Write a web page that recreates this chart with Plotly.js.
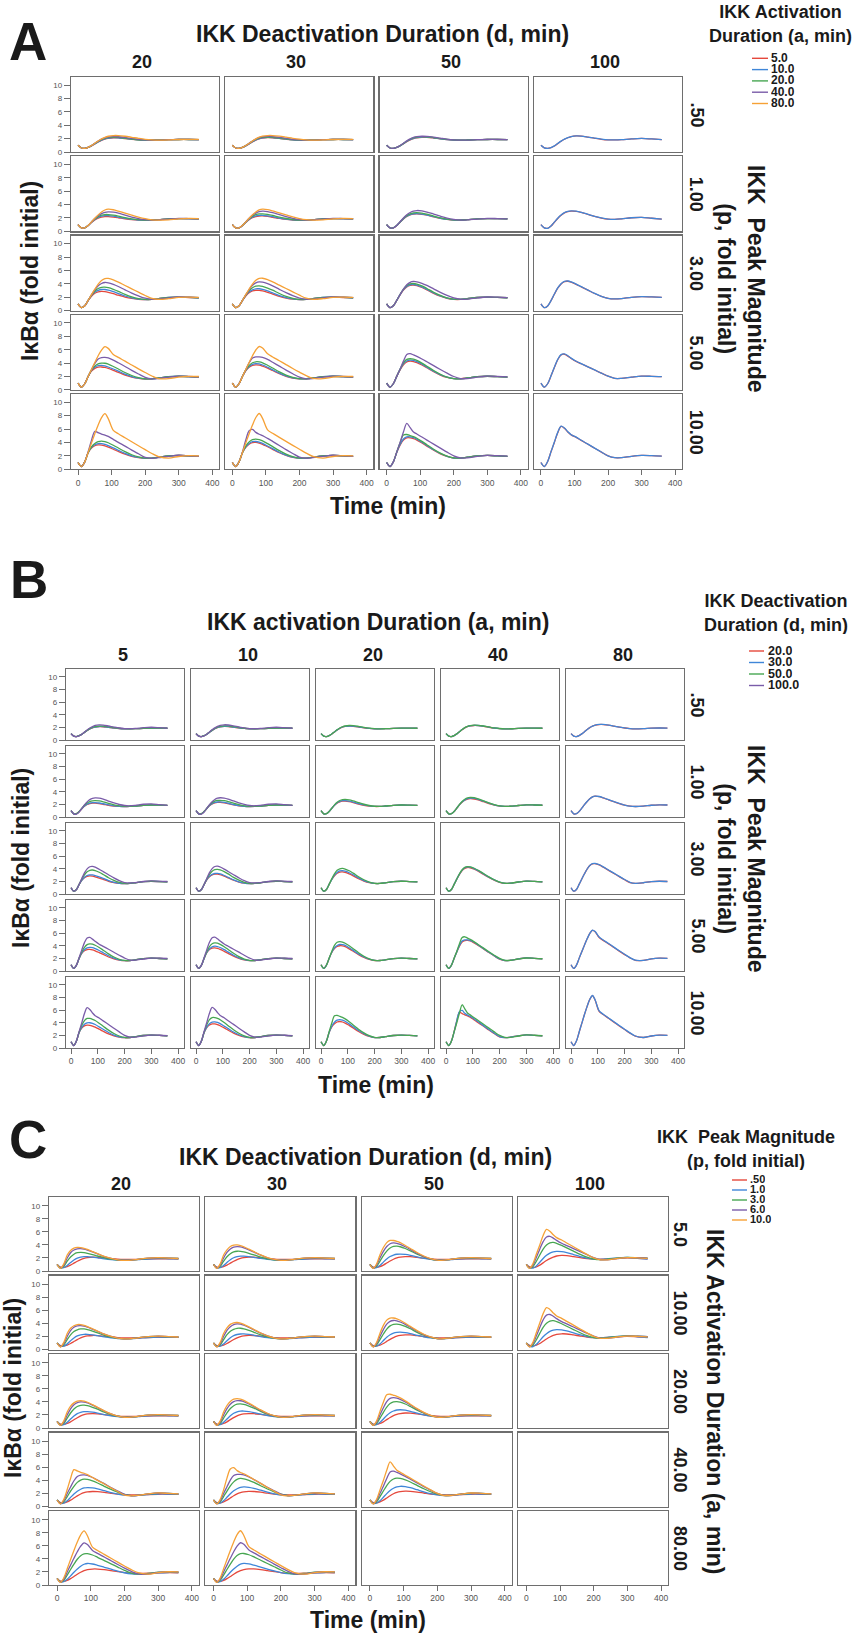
<!DOCTYPE html>
<html><head><meta charset="utf-8">
<script src="https://cdn.plot.ly/plotly-3.0.1.min.js"></script>
<style>html,body{margin:0;padding:0;background:#fff;}#chart{width:856px;height:1633px;}</style>
</head><body><div id="chart"></div>
<script>
// ---------------- DATA ----------------
const TIME = [0,10,20,30,40,50,60,70,80,90,105,120,140,160,180,200,220,240,270,300,330,360];
const A_LEVELS = [5,10,20,40,80];      // IKK activation duration (min)
const D_LEVELS = [20,30,50,100];       // IKK deactivation duration (min)
const P_LEVELS = [0.5,1,3,5,10];       // IKK peak magnitude (fold)
const A_LABELS = ['5.0','10.0','20.0','40.0','80.0'];
const D_LABELS = ['20.0','30.0','50.0','100.0'];
const P_LABELS = ['.50','1.0','3.0','6.0','10.0'];
const P_ROW_LABELS = ['.50','1.00','3.00','5.00','10.00'];
const A_ROW_LABELS = ['5.0','10.00','20.00','40.00','80.00'];
const D_COL_LABELS = ['20','30','50','100'];
const A_COL_LABELS = ['5','10','20','40','80'];
const X_TICKS = [0,100,200,300,400];
const Y_TICKS = [0,2,4,6,8,10];

// IkBa (fold initial) for each (a,d); rows are p = .5, 1, 3, 5, 10
const a5_d20 = [
 [1.0,0.6,0.55,0.68,0.9,1.2,1.5,1.75,1.93,2.04,2.12,2.1,2.0,1.9,1.82,1.78,1.77,1.79,1.84,1.87,1.87,1.86],
 [1.0,0.5,0.52,0.85,1.3,1.7,1.98,2.13,2.2,2.2,2.13,2.02,1.86,1.74,1.67,1.65,1.68,1.74,1.84,1.9,1.88,1.85],
 [1.0,0.45,0.72,1.5,2.15,2.58,2.8,2.86,2.82,2.72,2.52,2.3,2.02,1.82,1.69,1.64,1.68,1.78,1.95,2.0,1.96,1.92],
 [1.0,0.42,0.92,2.0,2.8,3.22,3.4,3.42,3.35,3.2,2.92,2.62,2.22,1.92,1.72,1.63,1.66,1.78,1.96,2.03,1.98,1.92],
 [1.0,0.4,1.1,2.45,3.15,3.5,3.62,3.6,3.48,3.3,2.98,2.65,2.24,1.93,1.72,1.63,1.66,1.79,1.98,2.05,1.99,1.92]];
const a10_d20 = [
 [1.0,0.6,0.55,0.68,0.92,1.22,1.52,1.78,1.97,2.08,2.15,2.13,2.03,1.92,1.83,1.78,1.77,1.79,1.84,1.87,1.87,1.86],
 [1.0,0.5,0.52,0.86,1.34,1.77,2.08,2.25,2.33,2.33,2.25,2.12,1.93,1.78,1.69,1.66,1.68,1.74,1.84,1.9,1.88,1.85],
 [1.0,0.45,0.72,1.5,2.25,2.75,3.02,3.15,3.15,3.05,2.82,2.55,2.18,1.9,1.72,1.65,1.67,1.78,1.96,2.02,1.97,1.92],
 [1.0,0.42,0.92,2.0,2.9,3.4,3.62,3.66,3.58,3.42,3.12,2.8,2.35,2.0,1.76,1.64,1.66,1.78,1.97,2.04,1.98,1.92],
 [1.0,0.4,1.1,2.45,3.25,3.65,3.82,3.82,3.7,3.52,3.18,2.82,2.36,2.0,1.75,1.63,1.66,1.79,1.98,2.05,1.99,1.92]];
const a20_d20 = [
 [1.0,0.6,0.55,0.7,0.95,1.27,1.58,1.85,2.04,2.15,2.2,2.17,2.06,1.93,1.83,1.78,1.77,1.79,1.84,1.87,1.87,1.86],
 [1.0,0.5,0.52,0.87,1.37,1.84,2.2,2.4,2.5,2.5,2.42,2.28,2.05,1.86,1.73,1.67,1.68,1.74,1.85,1.9,1.88,1.85],
 [1.0,0.45,0.72,1.52,2.3,2.9,3.3,3.48,3.5,3.42,3.18,2.88,2.42,2.05,1.8,1.67,1.67,1.77,1.96,2.02,1.97,1.92],
 [1.0,0.42,0.92,2.0,2.95,3.55,3.88,4.0,3.98,3.85,3.5,3.12,2.6,2.15,1.83,1.66,1.66,1.78,1.97,2.04,1.98,1.92],
 [1.0,0.4,1.1,2.45,3.35,3.85,4.12,4.2,4.12,3.95,3.58,3.17,2.62,2.16,1.83,1.65,1.66,1.79,1.98,2.05,1.99,1.92]];
const a40_d20 = [
 [1.0,0.6,0.55,0.7,0.97,1.3,1.63,1.92,2.12,2.24,2.3,2.28,2.17,2.02,1.89,1.8,1.77,1.78,1.84,1.88,1.88,1.86],
 [1.0,0.5,0.52,0.87,1.4,1.92,2.35,2.65,2.84,2.9,2.85,2.7,2.42,2.13,1.9,1.74,1.68,1.7,1.82,1.92,1.9,1.86],
 [1.0,0.45,0.72,1.52,2.35,3.1,3.7,4.05,4.2,4.15,3.92,3.6,3.1,2.62,2.2,1.85,1.68,1.72,1.9,2.03,2.0,1.93],
 [1.0,0.42,0.92,2.0,3.0,3.95,4.6,4.82,4.85,4.78,4.45,4.05,3.5,2.92,2.38,1.88,1.65,1.7,1.92,2.07,2.0,1.93],
 [1.0,0.4,1.1,2.6,4.3,5.65,5.45,5.25,5.1,4.9,4.45,4.0,3.45,2.85,2.3,1.75,1.63,1.72,1.93,2.08,2.0,1.93]];
const a80_d20 = [
 [1.0,0.6,0.55,0.7,0.97,1.3,1.65,1.96,2.2,2.35,2.45,2.45,2.35,2.2,2.04,1.9,1.81,1.77,1.8,1.87,1.9,1.88],
 [1.0,0.5,0.52,0.87,1.4,1.95,2.45,2.88,3.18,3.3,3.22,3.02,2.72,2.42,2.12,1.88,1.72,1.66,1.72,1.86,1.92,1.9],
 [1.0,0.45,0.72,1.52,2.38,3.2,3.95,4.5,4.78,4.8,4.6,4.25,3.75,3.25,2.75,2.25,1.82,1.68,1.78,1.97,2.02,1.98],
 [1.0,0.42,0.92,2.0,3.05,4.1,5.1,5.95,6.45,6.2,5.3,4.85,4.3,3.72,3.15,2.6,2.08,1.7,1.68,1.92,2.03,2.0],
 [1.0,0.4,1.1,2.5,3.9,5.3,6.6,7.7,8.3,7.55,5.8,5.3,4.7,4.1,3.5,2.92,2.35,1.88,1.66,1.9,2.03,2.0]];
const a5_d30 = [
 [1.0,0.6,0.55,0.68,0.9,1.2,1.5,1.76,1.95,2.06,2.14,2.12,2.02,1.91,1.82,1.78,1.77,1.79,1.84,1.87,1.87,1.86],
 [1.0,0.5,0.52,0.85,1.31,1.73,2.03,2.2,2.28,2.29,2.22,2.1,1.92,1.77,1.68,1.65,1.68,1.74,1.84,1.9,1.88,1.85],
 [1.0,0.45,0.72,1.5,2.18,2.66,2.93,3.03,3.02,2.93,2.72,2.47,2.12,1.86,1.7,1.64,1.68,1.78,1.95,2.01,1.96,1.92],
 [1.0,0.42,0.92,2.0,2.85,3.38,3.66,3.74,3.7,3.55,3.25,2.9,2.42,2.03,1.77,1.64,1.66,1.78,1.96,2.03,1.98,1.92],
 [1.0,0.4,1.1,2.45,3.25,3.75,3.97,4.0,3.9,3.72,3.35,2.97,2.46,2.05,1.77,1.64,1.66,1.79,1.98,2.05,1.99,1.92]];
const a10_d30 = [
 [1.0,0.6,0.55,0.68,0.92,1.22,1.53,1.79,1.99,2.1,2.17,2.15,2.05,1.93,1.83,1.78,1.77,1.79,1.84,1.87,1.87,1.86],
 [1.0,0.5,0.52,0.86,1.35,1.8,2.12,2.3,2.38,2.39,2.31,2.18,1.98,1.81,1.7,1.66,1.68,1.74,1.84,1.9,1.88,1.85],
 [1.0,0.45,0.72,1.5,2.27,2.8,3.1,3.25,3.26,3.17,2.93,2.64,2.24,1.94,1.74,1.65,1.67,1.78,1.96,2.02,1.97,1.92],
 [1.0,0.42,0.92,2.0,2.93,3.5,3.82,3.93,3.88,3.72,3.38,3.0,2.5,2.08,1.79,1.65,1.66,1.78,1.97,2.04,1.98,1.92],
 [1.0,0.4,1.1,2.45,3.32,3.85,4.1,4.14,4.05,3.86,3.47,3.07,2.53,2.1,1.8,1.64,1.66,1.79,1.98,2.05,1.99,1.92]];
const a20_d30 = [
 [1.0,0.6,0.55,0.7,0.95,1.28,1.6,1.87,2.06,2.17,2.22,2.19,2.08,1.95,1.84,1.78,1.77,1.79,1.84,1.87,1.87,1.86],
 [1.0,0.5,0.52,0.87,1.38,1.87,2.26,2.48,2.59,2.6,2.52,2.37,2.12,1.91,1.76,1.68,1.68,1.74,1.85,1.9,1.88,1.85],
 [1.0,0.45,0.72,1.52,2.32,2.98,3.42,3.65,3.7,3.62,3.37,3.05,2.55,2.13,1.84,1.68,1.67,1.77,1.96,2.02,1.97,1.92],
 [1.0,0.42,0.92,2.0,2.98,3.65,4.05,4.2,4.18,4.05,3.68,3.27,2.7,2.22,1.87,1.67,1.66,1.78,1.97,2.04,1.98,1.92],
 [1.0,0.4,1.1,2.45,3.45,4.08,4.42,4.5,4.42,4.23,3.82,3.37,2.77,2.26,1.88,1.66,1.66,1.79,1.98,2.05,1.99,1.92]];
const a40_d30 = [
 [1.0,0.6,0.55,0.7,0.97,1.31,1.65,1.94,2.14,2.26,2.32,2.3,2.19,2.04,1.9,1.81,1.77,1.78,1.84,1.88,1.88,1.86],
 [1.0,0.5,0.52,0.87,1.41,1.95,2.4,2.72,2.93,3.0,2.95,2.79,2.5,2.2,1.94,1.76,1.68,1.7,1.82,1.92,1.9,1.86],
 [1.0,0.45,0.72,1.52,2.36,3.15,3.78,4.15,4.3,4.25,4.02,3.7,3.18,2.68,2.24,1.88,1.69,1.72,1.9,2.03,2.0,1.93],
 [1.0,0.42,0.92,2.0,3.02,4.05,4.75,4.93,4.92,4.85,4.55,4.13,3.55,2.96,2.41,1.9,1.66,1.7,1.92,2.07,2.0,1.93],
 [1.0,0.4,1.1,2.55,4.35,5.75,5.95,5.5,5.22,5.02,4.6,4.15,3.55,2.92,2.35,1.8,1.64,1.72,1.93,2.08,2.0,1.93]];
const a80_d30 = [
 [1.0,0.6,0.55,0.7,0.97,1.3,1.65,1.97,2.21,2.36,2.46,2.46,2.36,2.21,2.05,1.91,1.81,1.77,1.8,1.87,1.9,1.88],
 [1.0,0.5,0.52,0.87,1.4,1.95,2.46,2.89,3.2,3.32,3.25,3.05,2.75,2.45,2.15,1.9,1.73,1.66,1.72,1.86,1.92,1.9],
 [1.0,0.45,0.72,1.52,2.38,3.2,3.96,4.52,4.8,4.83,4.64,4.3,3.8,3.3,2.8,2.3,1.85,1.69,1.78,1.97,2.02,1.98],
 [1.0,0.42,0.92,2.0,3.05,4.1,5.1,5.96,6.48,6.25,5.38,4.92,4.36,3.78,3.2,2.65,2.12,1.72,1.68,1.92,2.03,2.0],
 [1.0,0.4,1.1,2.5,3.9,5.3,6.6,7.72,8.32,7.6,5.88,5.36,4.76,4.16,3.56,2.98,2.4,1.9,1.66,1.9,2.03,2.0]];
const a5_d50 = [
 [1.0,0.6,0.55,0.68,0.91,1.22,1.53,1.8,2.0,2.12,2.2,2.19,2.09,1.96,1.85,1.79,1.77,1.79,1.84,1.87,1.87,1.86],
 [1.0,0.5,0.52,0.86,1.36,1.85,2.22,2.45,2.57,2.6,2.54,2.4,2.15,1.93,1.77,1.68,1.68,1.74,1.85,1.9,1.88,1.85],
 [1.0,0.45,0.72,1.52,2.35,3.05,3.52,3.76,3.8,3.72,3.45,3.1,2.58,2.15,1.84,1.68,1.67,1.77,1.96,2.02,1.97,1.92],
 [1.0,0.42,0.92,2.02,3.0,3.75,4.18,4.3,4.24,4.08,3.72,3.3,2.72,2.22,1.86,1.67,1.66,1.78,1.97,2.04,1.98,1.92],
 [1.0,0.4,1.1,2.5,3.6,4.35,4.68,4.68,4.55,4.35,3.92,3.45,2.83,2.3,1.9,1.67,1.66,1.79,1.98,2.05,1.99,1.92]];
const a10_d50 = [
 [1.0,0.6,0.55,0.68,0.92,1.24,1.56,1.83,2.04,2.16,2.24,2.23,2.12,1.98,1.86,1.79,1.77,1.79,1.84,1.87,1.87,1.86],
 [1.0,0.5,0.52,0.86,1.37,1.88,2.26,2.5,2.62,2.65,2.58,2.43,2.18,1.95,1.78,1.69,1.68,1.74,1.85,1.9,1.88,1.85],
 [1.0,0.45,0.72,1.52,2.38,3.12,3.62,3.86,3.9,3.82,3.54,3.18,2.64,2.19,1.86,1.69,1.67,1.77,1.96,2.02,1.97,1.92],
 [1.0,0.42,0.92,2.02,3.05,3.88,4.32,4.45,4.4,4.22,3.85,3.4,2.8,2.27,1.89,1.68,1.66,1.78,1.97,2.04,1.98,1.92],
 [1.0,0.4,1.1,2.5,3.7,4.5,4.83,4.83,4.7,4.48,4.03,3.54,2.9,2.34,1.92,1.67,1.66,1.79,1.98,2.05,1.99,1.92]];
const a20_d50 = [
 [1.0,0.6,0.55,0.7,0.95,1.28,1.61,1.9,2.1,2.22,2.3,2.28,2.16,2.01,1.88,1.8,1.77,1.79,1.84,1.87,1.87,1.86],
 [1.0,0.5,0.52,0.87,1.39,1.92,2.34,2.61,2.76,2.8,2.73,2.56,2.28,2.02,1.82,1.7,1.68,1.74,1.85,1.9,1.88,1.85],
 [1.0,0.45,0.72,1.52,2.4,3.2,3.75,4.0,4.05,3.96,3.68,3.3,2.74,2.26,1.9,1.7,1.67,1.77,1.96,2.02,1.97,1.92],
 [1.0,0.42,0.92,2.02,3.1,4.05,4.55,4.65,4.58,4.4,4.0,3.53,2.9,2.34,1.92,1.69,1.66,1.78,1.97,2.04,1.98,1.92],
 [1.0,0.4,1.1,2.55,3.95,5.1,5.18,5.02,4.85,4.62,4.16,3.65,2.98,2.4,1.95,1.68,1.66,1.79,1.98,2.05,1.99,1.92]];
const a40_d50 = [
 [1.0,0.6,0.55,0.7,0.97,1.31,1.66,1.96,2.17,2.29,2.35,2.33,2.22,2.07,1.92,1.82,1.77,1.78,1.84,1.88,1.88,1.86],
 [1.0,0.5,0.52,0.87,1.42,1.98,2.46,2.8,3.02,3.1,3.05,2.88,2.57,2.25,1.97,1.78,1.69,1.7,1.82,1.92,1.9,1.86],
 [1.0,0.45,0.72,1.52,2.38,3.2,3.85,4.22,4.35,4.3,4.08,3.76,3.24,2.72,2.26,1.9,1.7,1.72,1.9,2.03,2.0,1.93],
 [1.0,0.42,0.92,2.02,3.1,4.3,5.3,5.42,5.22,5.0,4.62,4.2,3.62,3.05,2.5,2.0,1.7,1.68,1.9,2.06,2.01,1.94],
 [1.0,0.4,1.1,2.55,4.0,5.55,6.85,6.2,5.55,5.25,4.8,4.35,3.75,3.15,2.55,2.0,1.68,1.68,1.9,2.07,2.02,1.94]];
const a5_d100 = [
 [1.0,0.62,0.55,0.65,0.9,1.25,1.6,1.9,2.13,2.3,2.4,2.37,2.22,2.05,1.9,1.81,1.8,1.84,1.95,2.02,1.95,1.86],
 [1.0,0.5,0.45,0.78,1.35,1.92,2.4,2.75,2.95,3.02,2.98,2.82,2.52,2.22,1.98,1.82,1.78,1.85,2.02,2.08,1.95,1.83],
 [1.0,0.45,0.7,1.5,2.45,3.35,3.98,4.32,4.38,4.25,3.92,3.55,3.05,2.55,2.12,1.82,1.74,1.8,1.98,2.08,2.04,1.98],
 [1.0,0.42,0.92,2.1,3.35,4.5,5.22,5.32,5.05,4.7,4.25,3.9,3.44,2.97,2.5,2.05,1.72,1.72,1.9,2.05,2.03,1.98],
 [1.0,0.4,1.15,2.6,4.0,5.45,6.38,6.1,5.55,5.12,4.75,4.3,3.72,3.12,2.55,2.0,1.72,1.72,1.92,2.05,2.02,1.95]];
const a10_d100 = [
 [1.0,0.62,0.55,0.66,0.92,1.27,1.62,1.92,2.15,2.31,2.41,2.38,2.23,2.06,1.91,1.81,1.8,1.84,1.95,2.02,1.95,1.86],
 [1.0,0.5,0.45,0.79,1.37,1.95,2.43,2.78,2.98,3.05,3.0,2.84,2.54,2.23,1.99,1.82,1.78,1.85,2.02,2.08,1.95,1.83],
 [1.0,0.45,0.7,1.5,2.47,3.38,4.02,4.36,4.42,4.28,3.95,3.57,3.06,2.56,2.12,1.82,1.74,1.8,1.98,2.08,2.04,1.98],
 [1.0,0.42,0.92,2.1,3.38,4.55,5.27,5.37,5.1,4.74,4.28,3.92,3.45,2.98,2.5,2.05,1.72,1.72,1.9,2.05,2.03,1.98],
 [1.0,0.4,1.15,2.62,4.05,5.5,6.42,6.15,5.6,5.15,4.78,4.32,3.74,3.14,2.56,2.0,1.72,1.72,1.92,2.05,2.02,1.95]];

// lookup table built from the named arrays (only simulated a/d pairs exist)
const SIM = {
 '5_20':a5_d20,'10_20':a10_d20,'20_20':a20_d20,'40_20':a40_d20,'80_20':a80_d20,
 '5_30':a5_d30,'10_30':a10_d30,'20_30':a20_d30,'40_30':a40_d30,'80_30':a80_d30,
 '5_50':a5_d50,'10_50':a10_d50,'20_50':a20_d50,'40_50':a40_d50,
 '5_100':a5_d100,'10_100':a10_d100};

// ---------------- STYLE / LAYOUT ----------------
const W = 856, H = 1633;
const FONT = 'Liberation Sans, Arial, Helvetica, sans-serif';
const COLORS = ['#e5483c','#3f86d8','#47a652','#7a5ca9','#f6a136'];
const TXT = '#1a1a1a';
const px = x => x / W, py = y => 1 - y / H;

const layout = {width:W, height:H, margin:{l:0,r:0,t:0,b:0}, paper_bgcolor:'#fff', plot_bgcolor:'#fff',
  showlegend:false, hovermode:false, font:{family:FONT}, annotations:[], shapes:[]};
const traces = [];
let axisCount = 0;

function buildPanel(g){
  for (let ri = 0; ri < g.nRows; ri++) for (let ci = 0; ci < g.nCols; ci++){
    axisCount++;
    const s = axisCount === 1 ? '' : String(axisCount);
    const xl = g.x0 + ci*g.xp, xr = xl + g.w;
    const yt = g.y0 + ri*g.yp, yb = yt + g.h;
    const bottom = ri === g.nRows-1, left = ci === 0;
    layout['xaxis'+s] = {domain:[px(xl), px(xr)], range:g.xr, anchor:'y'+s, showline:true, mirror:true,
      linecolor:'#6e6e6e', linewidth:1.2, showgrid:false, zeroline:false,
      ticks: bottom ? 'outside' : '', ticklen:5, tickcolor:'#6e6e6e', tickwidth:1,
      tickvals:X_TICKS, showticklabels:bottom, tickfont:{family:FONT, size:8.5, color:'#555'}, fixedrange:true};
    layout['yaxis'+s] = {domain:[py(yb), py(yt)], range:g.yr, anchor:'x'+s, showline:true, mirror:true,
      linecolor:'#6e6e6e', linewidth:1.2, showgrid:false, zeroline:false,
      ticks: left ? 'outside' : '', ticklen:6, tickcolor:'#6e6e6e', tickwidth:1,
      tickvals:Y_TICKS, showticklabels:left, tickfont:{family:FONT, size:8, color:'#555'}, fixedrange:true};
    const cs = g.curves(ri, ci);
    if (!cs.length) {
      // empty panel (parameter pair not simulated): keep its frame and axes
      traces.push({type:'scatter', mode:'lines', x:[null], y:[null], xaxis:'x'+s, yaxis:'y'+s, hoverinfo:'skip'});
    }
    cs.forEach(c => traces.push({type:'scatter', mode:'lines', x:TIME, y:c.y,
      xaxis:'x'+s, yaxis:'y'+s, line:{color:c.color, width:1.3, shape:'spline', smoothing:0.9}, hoverinfo:'skip'}));
  }
}

function ann(text, x, y, size, o){
  layout.annotations.push(Object.assign({text:text, x:px(x), y:py(y), xref:'paper', yref:'paper', showarrow:false,
    xanchor:'center', yanchor:'middle', font:{family:FONT, size:size, color:TXT}}, o || {}));
}
function legendBlock(title, tx, ty, tsize, labels, colors, sx0, sx1, lx, ys, lsize, lh){
  ann('<b>'+title+'</b>', tx, ty, tsize, {height: Math.round(tsize*2.35), borderpad:0});
  labels.forEach((lab, i) => {
    layout.shapes.push({type:'line', xref:'paper', yref:'paper', x0:px(sx0), x1:px(sx1), y0:py(ys[i]+1), y1:py(ys[i]+1),
      line:{color:colors[i], width:1.4}});
    ann('<b>'+lab+'</b>', lx, ys[i], lsize, {xanchor:'left', height:lh, borderpad:0});
  });
}

// ---------- Panel A: cols d, rows p, colour a ----------
const gA = {nRows:5, nCols:4, x0:71, w:148, xp:154.3, y0:77, h:75, yp:79.3, xr:[-21,420], yr:[0,11.2],
  curves:(ri, ci) => A_LEVELS.map((a, ai) => ({key:a+'_'+D_LEVELS[ci], ai}))
      .filter(o => SIM[o.key]).map(o => ({y:SIM[o.key][ri], color:COLORS[o.ai]}))};
buildPanel(gA);
ann('<b>A</b>', 28, 41, 53);
ann('<b>IKK Deactivation Duration (d, min)</b>', 382, 34, 23);
D_COL_LABELS.forEach((t, i) => ann('<b>'+t+'</b>', gA.x0 + i*gA.xp + gA.w/2 - 3, 62, 18));
P_ROW_LABELS.forEach((t, i) => ann('<b>'+t+'</b>', 696, gA.y0 + i*gA.yp + gA.h/2, 18, {textangle:90}));
ann('<b>IKK \u00a0Peak Magnitude</b><br><b>(p, fold initial)</b>', 741, 278, 23, {textangle:90});
ann('<b>I\u03baB\u03b1 (fold initial)</b>', 30, 271, 23, {textangle:-90});
ann('<b>Time (min)</b>', 388, 506, 23);
legendBlock('IKK Activation<br>Duration (a, min)', 780, 24, 18, A_LABELS, COLORS, 752, 768, 770,
  [57.3, 68.6, 79.9, 91.2, 102.5], 12, 11);

// ---------- Panel B: cols a, rows p, colour d ----------
const gB = {nRows:5, nCols:5, x0:66, w:118, xp:125, y0:669, h:71, yp:77, xr:[-19,422], yr:[0,11.25],
  curves:(ri, ci) => D_LEVELS.map((d, di) => ({key:A_LEVELS[ci]+'_'+d, di}))
      .filter(o => SIM[o.key]).map(o => ({y:SIM[o.key][ri], color:COLORS[o.di]}))};
buildPanel(gB);
ann('<b>B</b>', 29, 580, 53);
ann('<b>IKK activation Duration (a, min)</b>', 378, 622, 23);
A_COL_LABELS.forEach((t, i) => ann('<b>'+t+'</b>', gB.x0 + i*gB.xp + gB.w/2 - 2, 655, 18));
P_ROW_LABELS.forEach((t, i) => ann('<b>'+t+'</b>', 697, gB.y0 + i*gB.yp + gB.h/2, 18, {textangle:90}));
ann('<b>IKK \u00a0Peak Magnitude</b><br><b>(p, fold initial)</b>', 741, 858, 23, {textangle:90});
ann('<b>I\u03baB\u03b1 (fold initial)</b>', 21, 858, 23, {textangle:-90});
ann('<b>Time (min)</b>', 376, 1085, 23);
legendBlock('IKK Deactivation<br>Duration (d, min)', 776, 613, 18, D_LABELS, COLORS, 749, 764, 767,
  [650, 661.5, 673, 684.5], 12.5, 11);

// ---------- Panel C: cols d, rows a, colour p ----------
const gC = {nRows:5, nCols:4, x0:49, w:150, xp:156.4, y0:1197, h:74, yp:78.5, xr:[-24,421], yr:[0,11.35],
  curves:(ri, ci) => {
    const m = SIM[A_LEVELS[ri]+'_'+D_LEVELS[ci]];
    return m ? P_LEVELS.map((p, pi) => ({y:m[pi], color:COLORS[pi]})) : [];
  }};
buildPanel(gC);
ann('<b>C</b>', 28, 1139, 53);
ann('<b>IKK Deactivation Duration (d, min)</b>', 365, 1157, 23);
D_COL_LABELS.forEach((t, i) => ann('<b>'+t+'</b>', gC.x0 + i*gC.xp + gC.w/2 - 3, 1184, 18));
A_ROW_LABELS.forEach((t, i) => ann('<b>'+t+'</b>', 680, gC.y0 + i*gC.yp + gC.h/2, 18, {textangle:90}));
ann('<b>IKK Activation Duration (a, min)</b>', 715, 1401, 23, {textangle:90});
ann('<b>I\u03baB\u03b1 (fold initial)</b>', 13, 1388, 23, {textangle:-90});
ann('<b>Time (min)</b>', 368, 1620, 23);
legendBlock('IKK \u00a0Peak Magnitude<br>(p, fold initial)', 746, 1149, 18, P_LABELS, COLORS, 732, 747, 749,
  [1179, 1189, 1199, 1209, 1219], 11, 10);

Plotly.newPlot('chart', traces, layout, {staticPlot:true, displayModeBar:false});
</script></body></html>
